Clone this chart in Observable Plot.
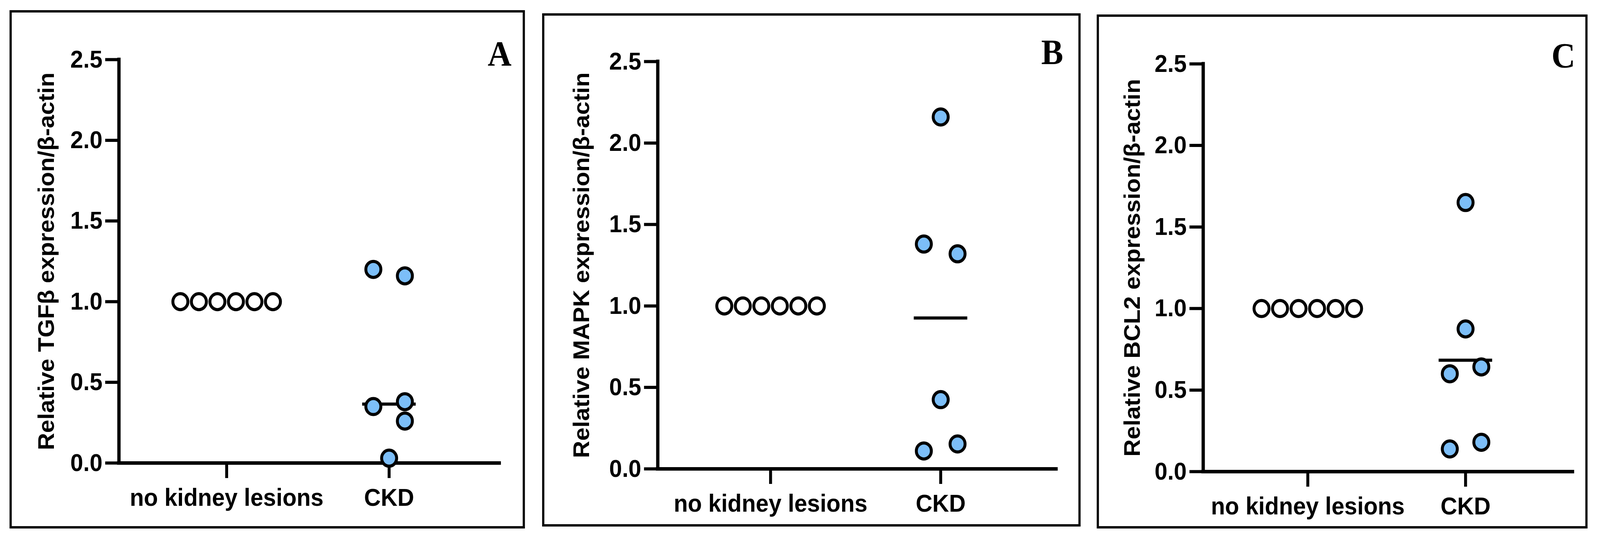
<!DOCTYPE html>
<html>
<head>
<meta charset="utf-8">
<script src="https://cdn.jsdelivr.net/npm/d3@7"></script>
<script src="https://cdn.jsdelivr.net/npm/@observablehq/plot@0.6"></script>
<style>
  html, body { margin: 0; padding: 0; background: #fff; overflow: hidden; }
  #page { position: absolute; left: 0; top: 0; width: 4365px; height: 1384px; transform-origin: 0 0; }
  .panel { position: absolute; }
  .panel svg { position: absolute; left: 0; top: 0; overflow: visible; }
  .frame { position: absolute; left: 0; top: 0; right: 0; bottom: 0; box-sizing: border-box; border: 6px solid #000; pointer-events: none; }
</style>
</head>
<body>
<div id="page"></div>
<script>
// ---------------- data ----------------
const categories = ["no kidney lesions", "CKD"];
const yTicks = [0, 0.5, 1.0, 1.5, 2.0, 2.5];
const panelLetters = ["A", "B", "C"];
const yLabels = [
  "Relative TGFβ expression/β-actin",
  "Relative MAPK expression/β-actin",
  "Relative BCL2 expression/β-actin"
];
// control group (normalised to 1) and its column slots in the scatter
const controlValues = [1, 1, 1, 1, 1, 1];
const controlSlots = [-2.5, -1.5, -0.5, 0.5, 1.5, 2.5];
// CKD group values and their column slots
const tgfbCKD = [1.20, 1.16, 0.35, 0.38, 0.26, 0.03];
const tgfbSlots = [-1, 1, -1, 1, 1, 0];
const mapkCKD = [2.16, 1.38, 1.32, 0.425, 0.11, 0.153];
const mapkSlots = [0, -1, 1, 0, -1, 1];
const bcl2CKD = [1.65, 0.875, 0.60, 0.642, 0.139, 0.18];
const bcl2Slots = [0, 0, -1, 1, -1, 1];
// central line drawn for the CKD group
const ckdLine = [0.365, 0.926, 0.683];

const ckdValues = [tgfbCKD, mapkCKD, bcl2CKD];
const ckdSlots = [tgfbSlots, mapkSlots, bcl2Slots];

// ---------------- layout / style ----------------
const xDomain = [-0.663, 1.679];
const layout = [
  {left: 26,   top: 26, width: 1406, height: 1326, mL: 298, mR: 70, mT: 126, mB: 168, ckdSlot: 43, letterDx: 33, letterDy: 15, titleDx: -197},
  {left: 1479, top: 34, width: 1469, height: 1313, mL: 315, mR: 67, mT: 123, mB: 148, ckdSlot: 46, letterDx: 19, letterDy: 6,  titleDx: -207},
  {left: 2992, top: 37, width: 1339, height: 1315, mL: 290, mR: 41, mT: 126, mB: 146, ckdSlot: 43, letterDx: 7,  letterDy: 9,  titleDx: -192}
];
const CTRL_SLOT_PX = 50.5;
const LINE_HALF_PX = 73;
const BLUE = "#7cbef8";
const SANS = "'Liberation Sans', Arial, Helvetica, sans-serif";
const SERIF = "'Liberation Serif', 'Times New Roman', serif";

// fit the 4365×1384 design into the actual viewport
const page = document.getElementById("page");
const sx = window.innerWidth / 4365, sy = window.innerHeight / 1384;
page.style.transform = `scale(${sx}, ${sy})`;

layout.forEach((L, i) => {
  const plotW = L.width - L.mL - L.mR;
  const pxPerUnit = plotW / (xDomain[1] - xDomain[0]);
  const ctrl = controlValues.map((v, j) => ({x: 0 + controlSlots[j] * CTRL_SLOT_PX / pxPerUnit, v}));
  const ckd = ckdValues[i].map((v, j) => ({x: 1 + ckdSlots[i][j] * L.ckdSlot / pxPerUnit, v}));
  const hw = LINE_HALF_PX / pxPerUnit;

  const chart = Plot.plot({
    width: L.width,
    height: L.height,
    marginLeft: L.mL,
    marginRight: L.mR,
    marginTop: L.mT,
    marginBottom: L.mB,
    style: {fontFamily: SANS, fontWeight: "bold", color: "#000", background: "transparent", overflow: "visible", maxWidth: "none"},
    x: {domain: xDomain, axis: null},
    y: {domain: [0, 2.5], axis: null},
    marks: [
      Plot.axisY({ticks: yTicks, tickFormat: d3.format(".1f"), tickSize: 37, tickPadding: 8, strokeWidth: 8,
                  fontSize: 63, fontWeight: "bold", fontFamily: SANS, label: null}),
      Plot.axisX({ticks: [0, 1], tickFormat: d => categories[d], tickSize: 39, tickPadding: 26, strokeWidth: 8,
                  fontSize: 63, fontWeight: "bold", fontFamily: SANS, label: null}),
      Plot.ruleX([xDomain[0]], {y1: 0, y2: 2.5, strokeWidth: 9, strokeLinecap: "square"}),
      Plot.ruleY([0], {strokeWidth: 9, strokeLinecap: "square"}),
      Plot.ruleY([ckdLine[i]], {x1: 1 - hw, x2: 1 + hw, strokeWidth: 8}),
      Plot.dot(ctrl, {x: "x", y: "v", r: 20.5, fill: "#fff", stroke: "#000", strokeWidth: 8}),
      Plot.dot(ckd, {x: "x", y: "v", r: 20.5, fill: BLUE, stroke: "#000", strokeWidth: 8}),
      Plot.text([yLabels[i]], {frameAnchor: "left", rotate: -90, dx: L.titleDx, text: d => d,
                  textAnchor: "middle", lineAnchor: "middle", fontSize: 61, fontWeight: "bold", fontFamily: SANS}),
      Plot.text([panelLetters[i]], {frameAnchor: "top-right", text: d => d, textAnchor: "end", lineAnchor: "bottom",
                  dx: L.letterDx, dy: L.letterDy, fontSize: 90, fontWeight: "bold", fontFamily: SERIF})
    ]
  });

  const div = document.createElement("div");
  div.className = "panel";
  div.style.left = L.left + "px";
  div.style.top = L.top + "px";
  div.style.width = L.width + "px";
  div.style.height = L.height + "px";
  div.appendChild(chart);
  const frame = document.createElement("div");
  frame.className = "frame";
  div.appendChild(frame);
  page.appendChild(div);
});
</script>
</body>
</html>
